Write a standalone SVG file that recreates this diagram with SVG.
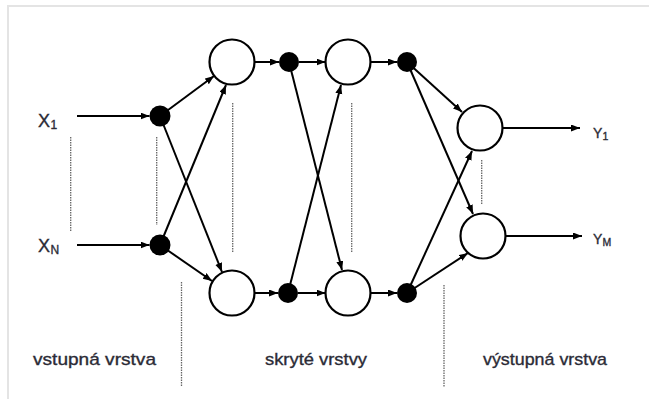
<svg xmlns="http://www.w3.org/2000/svg" width="649" height="399" viewBox="0 0 649 399">
<defs>
<marker id="ah" markerUnits="userSpaceOnUse" markerWidth="10" markerHeight="8" refX="9" refY="3.5" orient="auto">
<path d="M0,0 L9,3.5 L0,7 z" fill="#000"/>
</marker>
<style>
.e{stroke:#000;stroke-width:2;fill:none;marker-end:url(#ah)}
.d{stroke:#666;stroke-width:1.3;stroke-dasharray:1.5 1;fill:none}
.w{fill:#fff;stroke:#000;stroke-width:2.2}
.b{fill:#000}
.t{font-family:"Liberation Sans",Arial,sans-serif;fill:#2b2b36;stroke:#2b2b36;stroke-width:0.35}
.lab{font-size:17px}
</style>
</defs>
<rect width="649" height="399" fill="#fff"/>
<path d="M8,399 V6 H649" fill="none" stroke="#e4e4e4" stroke-width="2"/>

<g id="guides">
<line class="d" x1="70.7" y1="137" x2="70.7" y2="232"/>
<line class="d" x1="156.7" y1="137" x2="156.7" y2="225"/>
<line class="d" x1="232.7" y1="103" x2="232.7" y2="253"/>
<line class="d" x1="351.7" y1="103" x2="351.7" y2="253"/>
<line class="d" x1="481.7" y1="160" x2="481.7" y2="205"/>
<line class="d" x1="181.5" y1="282" x2="181.5" y2="387"/>
<line class="d" x1="444" y1="285" x2="444" y2="387"/>
</g>

<g id="connectors">
<line class="e" x1="77" y1="116" x2="149.5" y2="116"/>
<line class="e" x1="77" y1="245" x2="149.5" y2="245"/>
<line class="e" x1="160" y1="116" x2="214" y2="76"/>
<line class="e" x1="160" y1="245" x2="226" y2="85"/>
<line class="e" x1="160" y1="116" x2="222" y2="272"/>
<line class="e" x1="160" y1="245" x2="212" y2="281"/>
<line class="e" x1="254.5" y1="62" x2="279" y2="62"/>
<line class="e" x1="254.5" y1="293" x2="278" y2="293"/>
<line class="e" x1="299" y1="62" x2="325.5" y2="62"/>
<line class="e" x1="298" y1="293" x2="325.5" y2="293"/>
<line class="e" x1="289" y1="62" x2="342" y2="270"/>
<line class="e" x1="288" y1="293" x2="341" y2="85"/>
<line class="e" x1="370.5" y1="62" x2="397" y2="62"/>
<line class="e" x1="370.5" y1="293" x2="397" y2="293"/>
<line class="e" x1="407" y1="62" x2="462" y2="112"/>
<line class="e" x1="407" y1="62" x2="473" y2="214"/>
<line class="e" x1="407" y1="293" x2="472" y2="151"/>
<line class="e" x1="407" y1="293" x2="468" y2="253"/>
<line class="e" x1="502.5" y1="128" x2="580" y2="128"/>
<line class="e" x1="505.5" y1="236" x2="582" y2="236"/>
</g>

<g id="in1"><circle class="b" cx="160" cy="116" r="10.5"/></g>
<g id="inN"><circle class="b" cx="160" cy="245" r="10.5"/></g>
<g id="h1a"><circle class="w" cx="232" cy="62" r="22.5"/></g>
<g id="h1b"><circle class="w" cx="232" cy="293" r="22.5"/></g>
<g id="d1a"><circle class="b" cx="289" cy="62" r="10"/></g>
<g id="d1b"><circle class="b" cx="288" cy="293" r="10"/></g>
<g id="h2a"><circle class="w" cx="348" cy="62" r="22.5"/></g>
<g id="h2b"><circle class="w" cx="348" cy="293" r="22.5"/></g>
<g id="d2a"><circle class="b" cx="407" cy="62" r="10"/></g>
<g id="d2b"><circle class="b" cx="407" cy="293" r="10"/></g>
<g id="o1"><circle class="w" cx="480" cy="128" r="22.5"/></g>
<g id="oM"><circle class="w" cx="483" cy="236" r="22.5"/></g>

<g id="labels">
<text class="t" x="38" y="127" font-size="18">X<tspan x="50.5" y="128.5" font-size="12">1</tspan></text>
<text class="t" x="38" y="252" font-size="18">X<tspan x="50.5" y="253.5" font-size="12">N</tspan></text>
<text class="t" x="593" y="137.5" font-size="14">Y<tspan x="602.5" y="139.5" font-size="10.5">1</tspan></text>
<text class="t" x="593" y="244" font-size="14">Y<tspan x="602.5" y="245.5" font-size="10.5">M</tspan></text>
<text class="t lab" x="33" y="365" textLength="123" lengthAdjust="spacingAndGlyphs">vstupná vrstva</text>
<text class="t lab" x="265" y="365" textLength="102" lengthAdjust="spacingAndGlyphs">skryté vrstvy</text>
<text class="t lab" x="483" y="365" textLength="124" lengthAdjust="spacingAndGlyphs">výstupná vrstva</text>
</g>
</svg>
